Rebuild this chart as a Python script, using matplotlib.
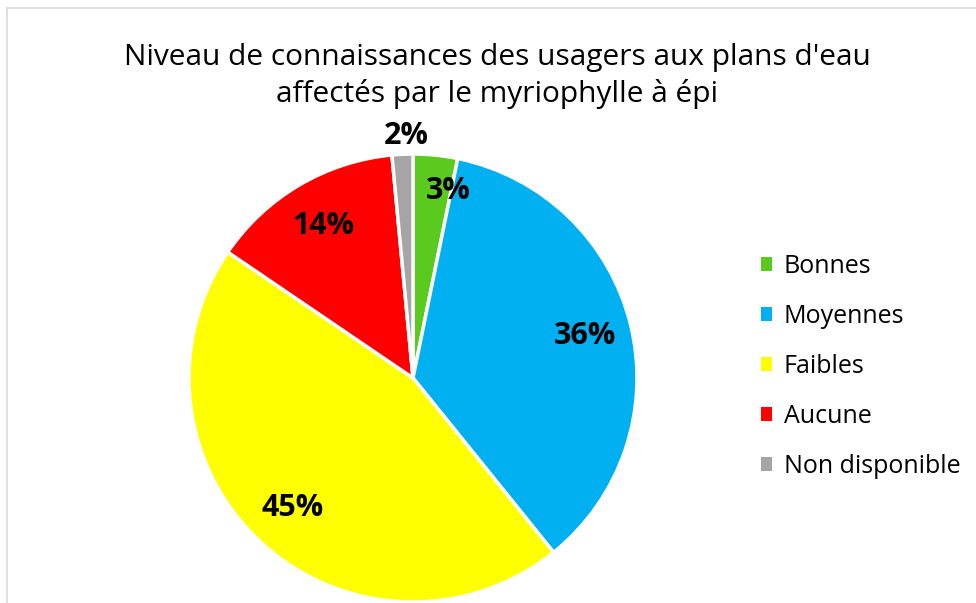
import matplotlib
matplotlib.use("Agg")
import matplotlib.pyplot as plt
import numpy as np

categories = ["Bonnes", "Moyennes", "Faibles", "Aucune", "Non disponible"]
values = [3.2, 36.0, 45.3, 14.0, 1.5]
colors = ["#5ACB1E", "#00B0F0", "#FFFF00", "#FF0000", "#A5A5A5"]
title = "Niveau de connaissances des usagers aux plans d'eau\naffectés par le myriophylle à épi"

plt.rcParams['font.family'] = ['Open Sans', 'DejaVu Sans']

W, H = 976, 603
fig = plt.figure(figsize=(W / 100, H / 100), dpi=100)
fig.patch.set_facecolor("white")

# chart border
border = plt.Rectangle((7 / W, -0.01), (W - 7) / W + 0.02, (H - 8) / H + 0.01,
                       transform=fig.transFigure, fill=False,
                       edgecolor="#D9D9D9", linewidth=1.2)
fig.add_artist(border)

cx, cy, r = 413, H - 378, 224
ax = fig.add_axes([(cx - r) / W, (cy - r) / H, 2 * r / W, 2 * r / H])
wedges, _ = ax.pie(values, colors=colors, startangle=90, counterclock=False,
                   wedgeprops=dict(edgecolor="white", linewidth=2.5), radius=1)
ax.set_xlim(-1, 1)
ax.set_ylim(-1, 1)
ax.set_aspect("equal")
ax.axis("off")

# label placement (radius, angle offset in degrees)
label_r = [0.85, 0.79, 0.79, 0.79, 1.08]
label_da = [5.0, 0, 0, 0, 1.0]
for w, v, lr, da in zip(wedges, values, label_r, label_da):
    ang = np.deg2rad((w.theta1 + w.theta2) / 2 - da)
    ax.text(lr * np.cos(ang), lr * np.sin(ang), f"{v:.0f}%",
            ha="center", va="center", fontsize=22, fontweight="bold",
            color="black", clip_on=False)

fig.text(497 / W, 1 - 76 / H, title, ha="center", va="center",
         fontsize=21.5, linespacing=1.28, color="black")

leg = fig.legend(wedges, categories, loc="upper left",
                 bbox_to_anchor=(761 / W, 1 - 254 / H),
                 frameon=False, fontsize=18, handlelength=0.45,
                 handleheight=0.45, handletextpad=0.45, labelspacing=1.0,
                 borderaxespad=0, borderpad=0)
for h in leg.legend_handles:
    h.set_linewidth(0)

fig.savefig("out.png", dpi=100, facecolor="white")
